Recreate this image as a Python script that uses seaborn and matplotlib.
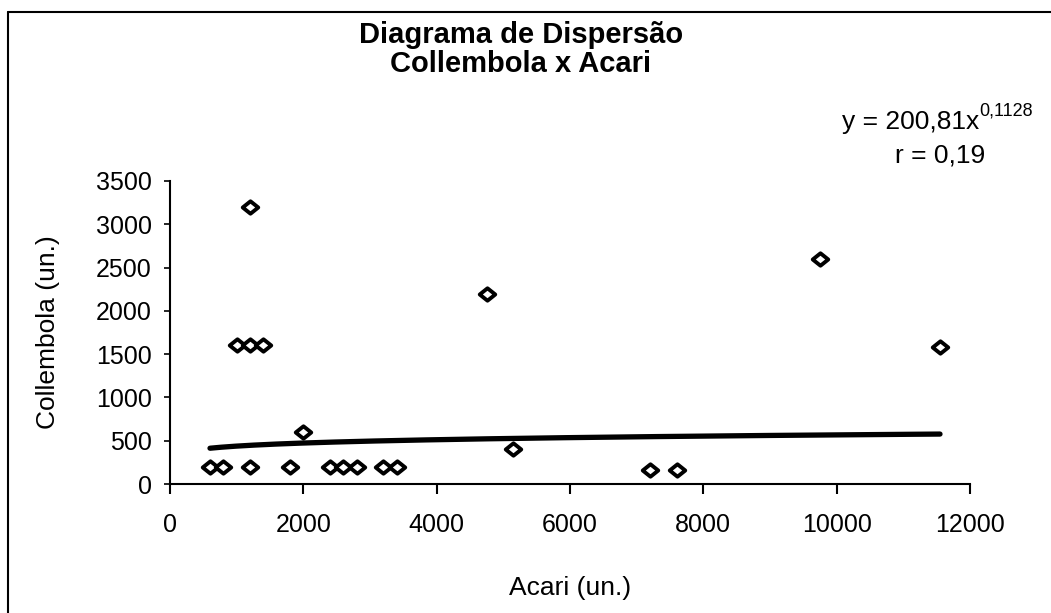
import numpy as np
import pandas as pd
import matplotlib
matplotlib.use("Agg")
import matplotlib.pyplot as plt
from matplotlib.lines import Line2D
from matplotlib.path import Path
import seaborn as sns

# ---- data ----
acari = [600, 800, 1200, 1800, 2400, 2600, 2800, 3200, 3400,
         1000, 1200, 1400, 1200, 2000, 4750, 5150, 7200, 7600, 9750, 11550]
collembola = [200, 200, 200, 200, 200, 200, 200, 200, 200,
              1600, 1600, 1600, 3200, 600, 2200, 400, 160, 160, 2600, 1580]
fit_a = 200.81
fit_b = 0.1128
x_ticks = [0, 2000, 4000, 6000, 8000, 10000, 12000]
y_ticks = [0, 500, 1000, 1500, 2000, 2500, 3000, 3500]
title_lines = ["Diagrama de Dispersão", "Collembola x Acari"]
eq_main = "y = 200,81x"
eq_sup = "0,1128"
r_text = "r = 0,19"
xlabel = "Acari (un.)"
ylabel = "Collembola (un.)"

sns.set_theme(style="white")
plt.rcParams["font.family"] = ["Liberation Sans", "DejaVu Sans"]
plt.rcParams["text.color"] = "black"
plt.rcParams["axes.labelcolor"] = "black"
plt.rcParams["xtick.color"] = "black"
plt.rcParams["ytick.color"] = "black"

df = pd.DataFrame({"Acari": acari, "Collembola": collembola})
xs = np.linspace(min(acari), max(acari), 200)
trend = pd.DataFrame({"Acari": xs, "Collembola": fit_a * xs ** fit_b})

fig = plt.figure(figsize=(10.51, 6.13), dpi=100)
W, H = 1051, 613
ax = fig.add_axes([170 / W, 1 - 484 / H, 800 / W, (484 - 181) / H])

diamond = Path([(-1, 0), (0, 0.8), (1, 0), (0, -0.8), (-1, 0)],
               [Path.MOVETO, Path.LINETO, Path.LINETO, Path.LINETO, Path.CLOSEPOLY])

sns.lineplot(data=trend, x="Acari", y="Collembola", ax=ax, color="black",
             linewidth=3.8, zorder=2)
sns.scatterplot(data=df, x="Acari", y="Collembola", ax=ax, marker=diamond,
                s=125, facecolor="white", edgecolor="black", linewidth=2.8,
                zorder=3)

ax.set_xlim(0, 12000)
ax.set_ylim(0, 3500)
ax.set_xticks(x_ticks)
ax.set_yticks(y_ticks)
ax.set_xticklabels([str(v) for v in x_ticks])
ax.set_yticklabels([str(v) for v in y_ticks])
for s in ["top", "right"]:
    ax.spines[s].set_visible(False)
for s in ["left", "bottom"]:
    ax.spines[s].set_color("black")
    ax.spines[s].set_linewidth(1.5)
ax.tick_params(axis="x", direction="out", length=7, width=1.5,
               labelsize=18, pad=14, bottom=True)
ax.tick_params(axis="y", direction="out", length=4, width=1.2,
               labelsize=18, pad=9, left=True)
ax.set_xlabel(xlabel, fontsize=19, labelpad=28)
ax.set_ylabel(ylabel, fontsize=19, labelpad=26)
ax.grid(False)

# title
fig.text(521 / W, 1 - 35 / H, title_lines[0], ha="center", va="center",
         fontsize=21, fontweight="bold")
fig.text(521 / W, 1 - 64 / H, title_lines[1], ha="center", va="center",
         fontsize=21, fontweight="bold")

# equation
t_main = fig.text(842 / W, 1 - 129 / H, eq_main, ha="left", va="baseline",
                  fontsize=19)
ax.annotate(eq_sup, xy=(1.0, 0.62), xycoords=t_main, ha="left", va="bottom",
            fontsize=13, annotation_clip=False)
fig.text(940 / W, 1 - 162 / H, r_text, ha="center", va="baseline", fontsize=19)

# chart frame (left and top edges visible in the reference)
fig.add_artist(Line2D([8 / W, 8 / W], [0, 1 - 12 / H], transform=fig.transFigure,
                      color="black", linewidth=1.5))
fig.add_artist(Line2D([8 / W, 1], [1 - 12 / H, 1 - 12 / H], transform=fig.transFigure,
                      color="black", linewidth=1.5))

fig.savefig("out.png", dpi=100)
